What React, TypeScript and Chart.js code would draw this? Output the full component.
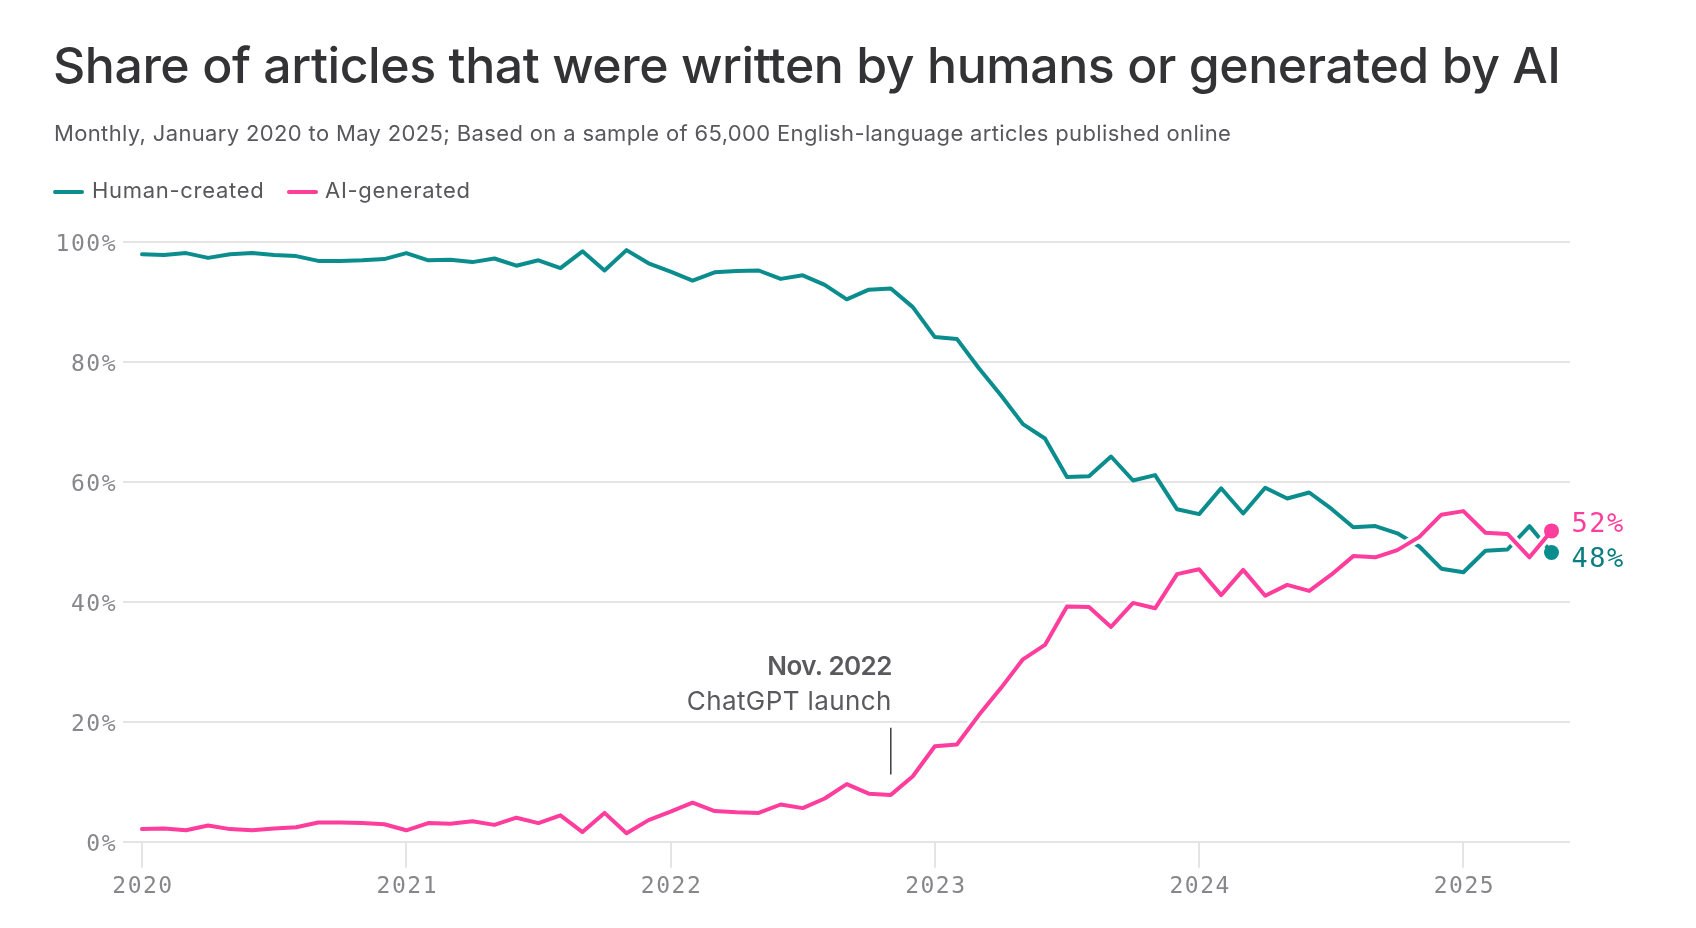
import { useEffect, useRef } from 'react';
import { Chart, registerables } from 'chart.js';

Chart.register(...registerables);

// monthly, Jan 2020 .. May 2025
const monthLabels = [
  '2020-01', '2020-02', '2020-03', '2020-04', '2020-05', '2020-06', '2020-07', '2020-08', '2020-09', '2020-10', '2020-11', '2020-12',
  '2021-01', '2021-02', '2021-03', '2021-04', '2021-05', '2021-06', '2021-07', '2021-08', '2021-09', '2021-10', '2021-11', '2021-12',
  '2022-01', '2022-02', '2022-03', '2022-04', '2022-05', '2022-06', '2022-07', '2022-08', '2022-09', '2022-10', '2022-11', '2022-12',
  '2023-01', '2023-02', '2023-03', '2023-04', '2023-05', '2023-06', '2023-07', '2023-08', '2023-09', '2023-10', '2023-11', '2023-12',
  '2024-01', '2024-02', '2024-03', '2024-04', '2024-05', '2024-06', '2024-07', '2024-08', '2024-09', '2024-10', '2024-11', '2024-12',
  '2025-01', '2025-02', '2025-03', '2025-04', '2025-05',
];

const humanShare = [
  97.9, 97.8, 98.1, 97.3, 97.9, 98.1, 97.8, 97.6, 96.8, 96.8, 96.9, 97.1,
  98.1, 96.9, 97.0, 96.6, 97.2, 96.0, 96.9, 95.6, 98.4, 95.2, 98.6, 96.4,
  95.0, 93.5, 94.9, 95.1, 95.2, 93.8, 94.4, 92.8, 90.4, 92.0, 92.2, 89.1,
  84.1, 83.8, 78.9, 74.4, 69.6, 67.2, 60.8, 60.9, 64.2, 60.2, 61.1, 55.4,
  54.6, 58.9, 54.7, 59.0, 57.2, 58.2, 55.5, 52.4, 52.6, 51.4, 49.2, 45.5,
  44.9, 48.5, 48.7, 52.6, 48.2,
];

const aiShare = [
  2.1, 2.2, 1.9, 2.7, 2.1, 1.9, 2.2, 2.4, 3.2, 3.2, 3.1, 2.9,
  1.9, 3.1, 3.0, 3.4, 2.8, 4.0, 3.1, 4.4, 1.6, 4.8, 1.4, 3.6,
  5.0, 6.5, 5.1, 4.9, 4.8, 6.2, 5.6, 7.2, 9.6, 8.0, 7.8, 10.9,
  15.9, 16.2, 21.1, 25.6, 30.4, 32.8, 39.2, 39.1, 35.8, 39.8, 38.9, 44.6,
  45.4, 41.1, 45.3, 41.0, 42.8, 41.8, 44.5, 47.6, 47.4, 48.6, 50.8, 54.5,
  55.1, 51.5, 51.3, 47.4, 51.8,
];

const yearTicks = ['2020', '2021', '2022', '2023', '2024', '2025'];
const launchMonth = '2022-11';

const TEAL = '#0b8d8e';
const TEAL_TEXT = '#0a7d80';
const PINK = '#ff3d9c';
const GRID = '#e4e4e6';
const TICK_TEXT = '#87878b';
const MONO = '"DejaVu Sans Mono", monospace';
const SANS = 'Inter, "Noto Sans", sans-serif';

const toPoints = (vals: number[]) => vals.map((v, i) => ({ x: i, y: v }));

// wider mono spacing for the axis labels
const spacingPlugin = {
  id: 'spacing',
  beforeDraw(chart: any) {
    (chart.ctx as any).letterSpacing = '1.5px';
  },
  afterDraw(chart: any) {
    (chart.ctx as any).letterSpacing = '0px';
  },
};

const overlayPlugin = {
  id: 'overlay',
  afterDatasetsDraw(chart: any) {
    const { ctx, scales } = chart;
    const x = scales.x;
    const y = scales.y;
    const last = humanShare.length - 1;
    const px = x.getPixelForValue(last);

    ctx.save();
    // end labels
    ctx.font = `27px ${MONO}`;
    ctx.textAlign = 'left';
    ctx.textBaseline = 'middle';
    (ctx as any).letterSpacing = '1.5px';
    ctx.fillStyle = PINK;
    ctx.fillText(`${Math.round(aiShare[last])}%`, px + 20, y.getPixelForValue(aiShare[last]) - 6);
    ctx.fillStyle = TEAL_TEXT;
    ctx.fillText(`${Math.round(humanShare[last])}%`, px + 20, y.getPixelForValue(humanShare[last]) + 7);

    // ChatGPT annotation
    const ax = x.getPixelForValue(monthLabels.indexOf(launchMonth));
    const top = y.getPixelForValue(19);
    const bottom = y.getPixelForValue(11.2);
    ctx.strokeStyle = '#3c3c40';
    ctx.lineWidth = 1.5;
    ctx.beginPath();
    ctx.moveTo(ax, top);
    ctx.lineTo(ax, bottom);
    ctx.stroke();

    ctx.textAlign = 'right';
    ctx.textBaseline = 'alphabetic';
    ctx.fillStyle = '#5a5a5e';
    ctx.font = `600 26px ${SANS}`;
    (ctx as any).letterSpacing = '-0.6px';
    ctx.fillText('Nov. 2022', ax + 1, top - 53);
    ctx.font = `400 26px ${SANS}`;
    (ctx as any).letterSpacing = '0.4px';
    ctx.fillText('ChatGPT launch', ax + 1, top - 18);
    ctx.restore();
  },
};

function ShareChart() {
  const canvasRef = useRef<HTMLCanvasElement>(null);
  const chartRef = useRef<any>(null);

  useEffect(() => {
    if (!canvasRef.current) return;
    if (chartRef.current) chartRef.current.destroy();

    const lastIdx = humanShare.length - 1;
    const endDot = (ctx: any) => (ctx.dataIndex === lastIdx ? 7.5 : 0);

    chartRef.current = new Chart(canvasRef.current, {
      type: 'line',
      data: {
        datasets: [
          {
            label: 'Human-created',
            data: toPoints(humanShare),
            borderColor: TEAL,
            backgroundColor: TEAL,
            borderWidth: 4,
            pointRadius: endDot,
            pointBorderWidth: 0,
            pointHoverRadius: 0,
            borderJoinStyle: 'round',
            borderCapStyle: 'round',
            order: 3,
          },
          {
            // white halo under the pink line
            label: 'halo',
            data: toPoints(aiShare),
            borderColor: '#ffffff',
            borderWidth: 10,
            pointRadius: 0,
            pointHoverRadius: 0,
            borderJoinStyle: 'round',
            order: 2,
          },
          {
            label: 'AI-generated',
            data: toPoints(aiShare),
            borderColor: PINK,
            backgroundColor: PINK,
            borderWidth: 4,
            pointRadius: endDot,
            pointBorderWidth: 0,
            pointHoverRadius: 0,
            borderJoinStyle: 'round',
            borderCapStyle: 'round',
            order: 1,
          },
        ],
      },
      options: {
        responsive: true,
        maintainAspectRatio: false,
        animation: false,
        events: [],
        layout: { padding: { top: 241.7, right: 126, bottom: 0, left: 0 } },
        plugins: {
          legend: { display: false },
          tooltip: { enabled: false },
        },
        scales: {
          x: {
            type: 'linear',
            min: -0.863,
            max: 64.84,
            afterBuildTicks: (scale: any) => {
              scale.ticks = yearTicks.map((_, i) => ({ value: i * 12 }));
            },
            afterFit: (scale: any) => {
              scale.height = 928 - 841.7;
            },
            grid: {
              drawOnChartArea: false,
              drawTicks: true,
              tickLength: 26,
              color: GRID,
              lineWidth: 2,
            },
            border: { display: false },
            ticks: {
              autoSkip: false,
              maxRotation: 0,
              padding: 6,
              labelOffset: 1,
              color: TICK_TEXT,
              font: { family: MONO, size: 23 },
              callback: (v: any) => yearTicks[Math.round(Number(v) / 12)] ?? '',
            },
          },
          y: {
            min: 0,
            max: 100,
            afterFit: (scale: any) => {
              scale.width = 123;
            },
            grid: { color: GRID, lineWidth: 2, drawTicks: false },
            border: { display: false },
            ticks: {
              stepSize: 20,
              padding: 6,
              labelOffset: 3,
              color: TICK_TEXT,
              font: { family: MONO, size: 23 },
              callback: (v: any) => `${v}%`,
            },
          },
        },
      },
      plugins: [spacingPlugin, overlayPlugin],
    });

    return () => {
      if (chartRef.current) {
        chartRef.current.destroy();
        chartRef.current = null;
      }
    };
  }, []);

  return (
    <div style={{ position: 'absolute', left: 0, top: 0, width: 1696, height: 928 }}>
      <canvas ref={canvasRef}></canvas>
    </div>
  );
}

export default function App() {
  const text = { position: 'absolute' as const, fontFamily: SANS, whiteSpace: 'nowrap' as const };
  const swatch = { position: 'absolute' as const, top: 189.5, width: 31, height: 4.5, borderRadius: 2.5 };

  return (
    <div style={{ position: 'absolute', left: 0, top: 0, width: 1696, height: 928, background: '#fff', overflow: 'hidden' }}>
      <ShareChart />
      <div style={{ ...text, left: 53, top: 40, fontSize: 50, lineHeight: '50px', fontWeight: 500, color: '#333336', letterSpacing: -0.45 }}>
        Share of articles that were written by humans or generated by AI
      </div>
      <div style={{ ...text, left: 54, top: 122, fontSize: 22, lineHeight: '22px', color: '#58585c', letterSpacing: 0.35 }}>
        Monthly, January 2020 to May 2025; Based on a sample of 65,000 English-language articles published online
      </div>
      <div style={{ ...swatch, left: 53, background: TEAL }} />
      <div style={{ ...text, left: 92, top: 179, fontSize: 22, lineHeight: '22px', color: '#58585c', letterSpacing: 0.7 }}>Human-created</div>
      <div style={{ ...swatch, left: 287, background: PINK }} />
      <div style={{ ...text, left: 325, top: 179, fontSize: 22, lineHeight: '22px', color: '#58585c', letterSpacing: 0.7 }}>AI-generated</div>
    </div>
  );
}
